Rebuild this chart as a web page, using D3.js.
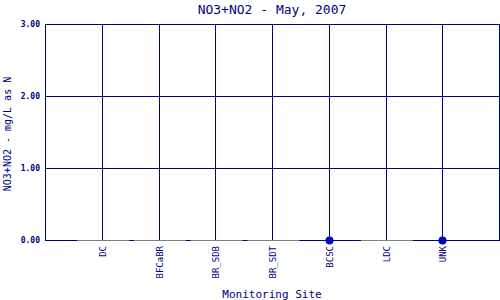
<!DOCTYPE html>
<html>
<head>
<meta charset="utf-8">
<script src="https://d3js.org/d3.v7.min.js"></script>
<style>
  body { margin: 0; background: #fff; }
  text { font-family: "DejaVu Sans Mono", monospace; fill: #000080; }
</style>
</head>
<body>
<svg id="chart"></svg>
<script>
  // monitoring sites and their NO3+NO2 values (null = no sample)
  var sites = ["DC", "BFCaBR", "BR_SDB", "BR_SDT", "BCSC", "LDC", "UNK"];
  var values = [null, null, null, null, 0, null, 0];
  var yTicks = [0, 1, 2, 3];

  var width = 500, height = 300;
  var plotLeft = 45, plotRight = 499, plotTop = 24, plotBottom = 240;
  var navy = "#000080";

  var svg = d3.select("#chart").attr("width", width).attr("height", height);

  // categories sit at 1..7 on a 0..8 domain
  var x = d3.scaleLinear().domain([0, sites.length + 1]).range([plotLeft, plotRight]);
  var y = d3.scaleLinear().domain([0, 3]).range([plotBottom, plotTop]);

  // horizontal grid lines
  svg.selectAll(".hgrid")
    .data(yTicks)
    .enter().append("line")
    .attr("x1", plotLeft).attr("x2", plotRight)
    .attr("y1", function(d) { return y(d) + 0.5; })
    .attr("y2", function(d) { return y(d) + 0.5; })
    .attr("stroke", navy).attr("stroke-width", 1);

  // vertical grid lines at each site
  svg.selectAll(".vgrid")
    .data(sites)
    .enter().append("line")
    .attr("x1", function(d, i) { return Math.round(x(i + 1)) + 0.5; })
    .attr("x2", function(d, i) { return Math.round(x(i + 1)) + 0.5; })
    .attr("y1", plotTop).attr("y2", plotBottom)
    .attr("stroke", navy).attr("stroke-width", 1);

  // frame
  svg.append("rect")
    .attr("x", plotLeft + 0.5).attr("y", plotTop + 0.5)
    .attr("width", plotRight - plotLeft).attr("height", plotBottom - plotTop)
    .attr("fill", "none").attr("stroke", navy).attr("stroke-width", 1);

  // gray baseline where a site has no data
  values.forEach(function(v, i) {
    if (v !== null) return;
    svg.append("line")
      .attr("x1", x(i + 0.55) + 1)
      .attr("x2", x(i + 1.5) - 1)
      .attr("y1", y(0) + 0.5).attr("y2", y(0) + 0.5)
      .attr("stroke", "#808080").attr("stroke-width", 1);
  });

  // data points
  var pts = values.map(function(v, i) { return {v: v, i: i}; })
    .filter(function(d) { return d.v !== null; });
  svg.selectAll(".pt")
    .data(pts)
    .enter().append("circle")
    .attr("cx", function(d) { return Math.round(x(d.i + 1)) + 0.5; })
    .attr("cy", function(d) { return y(d.v) + 0.5; })
    .attr("r", 4)
    .attr("fill", "#0000c0");

  // y tick labels
  svg.selectAll(".ylab")
    .data(yTicks)
    .enter().append("text")
    .attr("x", plotLeft - 5)
    .attr("y", function(d) { return y(d) + 3; })
    .attr("text-anchor", "end")
    .style("font-size", "8px")
    .style("font-weight", "bold")
    .text(function(d) { return d3.format(".2f")(d); });

  // x tick labels, rotated
  svg.selectAll(".xlab")
    .data(sites)
    .enter().append("text")
    .attr("transform", function(d, i) {
      return "translate(" + (Math.round(x(i + 1)) + 3.5) + "," + (plotBottom + 6) + ") rotate(-90)";
    })
    .attr("text-anchor", "end")
    .style("font-size", "9px")
    .text(function(d) { return d; });

  // titles
  svg.append("text")
    .attr("x", 272).attr("y", 14)
    .attr("text-anchor", "middle")
    .style("font-size", "13px")
    .text("NO3+NO2 - May, 2007");

  svg.append("text")
    .attr("x", 272).attr("y", 298)
    .attr("text-anchor", "middle")
    .style("font-size", "11px")
    .text("Monitoring Site");

  svg.append("text")
    .attr("transform", "translate(11,134) rotate(-90)")
    .attr("text-anchor", "middle")
    .style("font-size", "10px")
    .text("NO3+NO2 - mg/L as N");
</script>
</body>
</html>
